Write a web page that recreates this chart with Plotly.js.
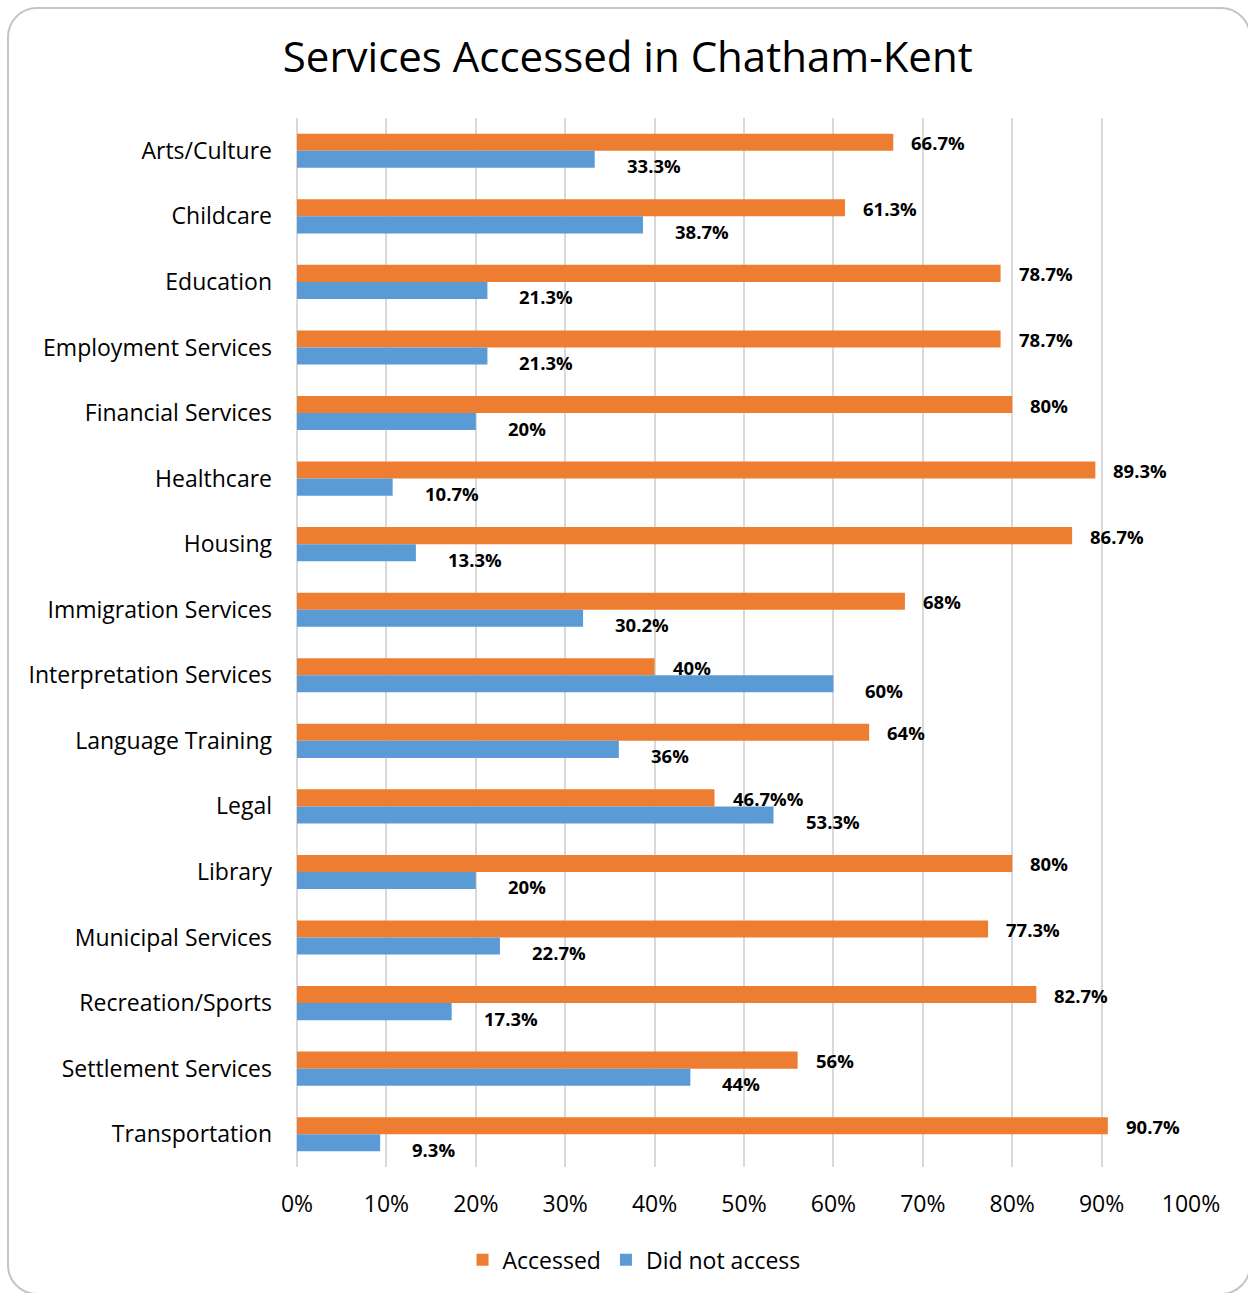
<!DOCTYPE html>
<html>
<head>
<meta charset="utf-8">
<script src="https://cdn.plot.ly/plotly-3.0.1.min.js"></script>
<style>
  body { margin: 0; background: #fff; }
  #wrap { position: relative; width: 1248px; height: 1293px; }
  #chart { width: 1248px; height: 1293px; }
  #frame {
    position: absolute; left: 7px; top: 7px; width: 1240px; height: 1284px;
    border: 2px solid #c4c4c4; border-radius: 30px; pointer-events: none;
  }
</style>
</head>
<body>
<div id="wrap">
  <div id="chart"></div>
  <div id="frame"></div>
</div>
<script>
const services = ['Arts/Culture', 'Childcare', 'Education', 'Employment Services',
  'Financial Services', 'Healthcare', 'Housing', 'Immigration Services',
  'Interpretation Services', 'Language Training', 'Legal', 'Library',
  'Municipal Services', 'Recreation/Sports', 'Settlement Services', 'Transportation'];

const accessed = [66.7, 61.3, 78.7, 78.7, 80, 89.3, 86.7, 68, 40, 64, 46.7, 80, 77.3, 82.7, 56, 90.7];
const notAccessed = [33.3, 38.7, 21.3, 21.3, 20, 10.7, 13.3, 32, 60, 36, 53.3, 20, 22.7, 17.3, 44, 9.3];

const accessedLabels = ['66.7%', '61.3%', '78.7%', '78.7%', '80%', '89.3%', '86.7%', '68%',
  '40%', '64%', '46.7%%', '80%', '77.3%', '82.7%', '56%', '90.7%'];
const notAccessedLabels = ['33.3%', '38.7%', '21.3%', '21.3%', '20%', '10.7%', '13.3%', '30.2%',
  '60%', '36%', '53.3%', '20%', '22.7%', '17.3%', '44%', '9.3%'];

const font = '"Open Sans", Lato, sans-serif';

const data = [{
  type: 'bar',
  orientation: 'h',
  name: 'Accessed',
  y: services,
  x: accessed.map(v => v / 100),
  marker: { color: '#ED7D31' },
  hoverinfo: 'skip'
}, {
  type: 'bar',
  orientation: 'h',
  name: 'Did not access',
  y: services,
  x: notAccessed.map(v => v / 100),
  marker: { color: '#5B9BD5' },
  hoverinfo: 'skip'
}];

const labelFont = { family: font, size: 18.5, color: '#000' };

const annotations = [];
services.forEach((s, i) => {
  annotations.push({
    x: accessed[i] / 100, y: s, text: '<b>' + accessedLabels[i] + '</b>',
    showarrow: false, xanchor: 'left', yanchor: 'middle',
    xshift: 16, yshift: 8, font: labelFont
  });
  annotations.push({
    x: notAccessed[i] / 100, y: s, text: '<b>' + notAccessedLabels[i] + '</b>',
    showarrow: false, xanchor: 'left', yanchor: 'middle',
    xshift: 30, yshift: -15, font: labelFont
  });
});

const layout = {
  width: 1248,
  height: 1293,
  margin: { l: 297, r: 57, t: 118, b: 124 },
  paper_bgcolor: '#fff',
  plot_bgcolor: '#fff',
  font: { family: font, color: '#000' },
  title: {
    text: 'Services Accessed in Chatham-Kent',
    font: { family: font, size: 42, color: '#000' },
    x: 0.503, xanchor: 'center',
    y: 0.956, yanchor: 'middle'
  },
  barmode: 'group',
  bargap: 0.48,
  bargroupgap: 0,
  xaxis: {
    range: [0, 1],
    dtick: 0.1,
    tickformat: '.0%',
    showgrid: true,
    gridcolor: '#d9d9d9',
    gridwidth: 2,
    zeroline: true,
    zerolinecolor: '#d9d9d9',
    zerolinewidth: 2,
    showline: false,
    ticks: '',
    ticklabelstandoff: 21,
    tickfont: { family: font, size: 23, color: '#000' },
    fixedrange: true
  },
  yaxis: {
    autorange: 'reversed',
    showgrid: false,
    zeroline: false,
    showline: false,
    ticks: '',
    ticklabelstandoff: 24,
    tickfont: { family: font, size: 23, color: '#000' },
    fixedrange: true
  },
  showlegend: true,
  legend: {
    orientation: 'h',
    x: 0.377, xanchor: 'center',
    y: -0.068, yanchor: 'top',
    font: { family: font, size: 23, color: '#000' },
    itemwidth: 30
  },
  annotations: annotations
};

Plotly.newPlot('chart', data, layout, { displayModeBar: false, staticPlot: true });
</script>
</body>
</html>
